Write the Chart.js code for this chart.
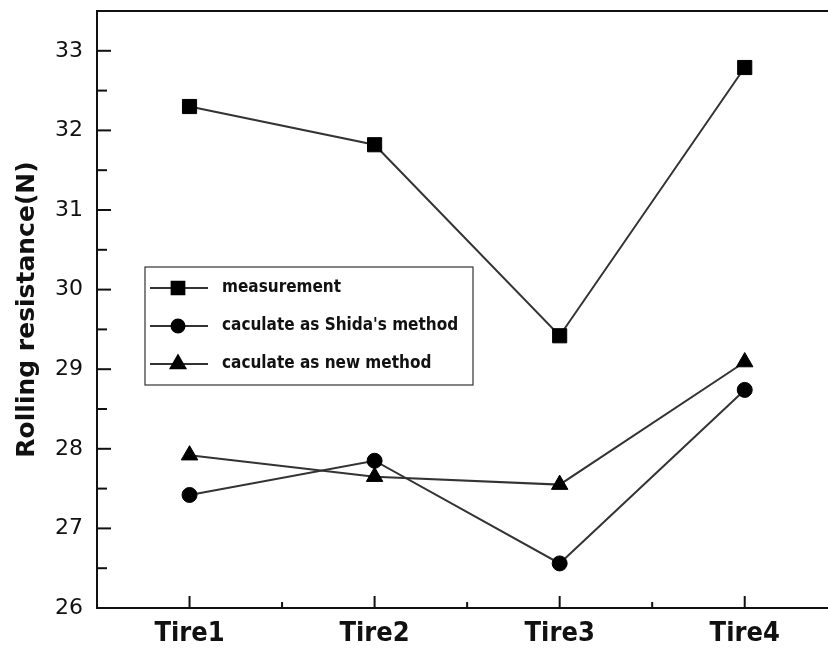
<!DOCTYPE html>
<html>
<head>
<meta charset="utf-8">
<script src="https://cdn.jsdelivr.net/npm/chart.js@4/dist/chart.umd.min.js"></script>
<style>
  html, body { margin: 0; padding: 0; background: #fff; overflow: hidden; }
  #wrap { width: 828px; height: 648px; }
</style>
</head>
<body>
<div id="wrap"><canvas id="c" width="828" height="648"></canvas></div>
<script>
// data
const tires = ["Tire1", "Tire2", "Tire3", "Tire4"];
const measurement = [32.30, 31.82, 29.42, 32.79];
const shidaMethod = [27.42, 27.85, 26.56, 28.74];
const newMethod = [27.92, 27.65, 27.55, 29.09];
const seriesNames = ["measurement", "caculate as Shida's method", "caculate as new method"];
const yTicks = [26, 27, 28, 29, 30, 31, 32, 33];

const toPoints = (arr) => arr.map((v, i) => ({ x: i + 1, y: v }));

// inward ticks + frame + legend box
const decor = {
  id: "decor",
  afterDraw(chart) {
    const ctx = chart.ctx;
    const a = chart.chartArea;
    const xs = chart.scales.x, ys = chart.scales.y;
    ctx.save();
    ctx.strokeStyle = "#111";
    ctx.lineWidth = 2;
    ctx.beginPath();
    ctx.moveTo(a.right, a.top);
    ctx.lineTo(a.left, a.top);
    ctx.lineTo(a.left, a.bottom);
    ctx.lineTo(a.right, a.bottom);
    ctx.stroke();

    // y ticks
    for (let v = 26.5; v < 33.5; v += 0.5) {
      const y = ys.getPixelForValue(v);
      const len = Number.isInteger(v) ? 14 : 10;
      ctx.beginPath();
      ctx.moveTo(a.left, y);
      ctx.lineTo(a.left + len, y);
      ctx.stroke();
    }
    // x ticks
    for (let v = 1; v <= 4.01; v += 0.5) {
      const x = xs.getPixelForValue(v);
      const len = Number.isInteger(v) ? 12 : 6;
      ctx.beginPath();
      ctx.moveTo(x, a.bottom);
      ctx.lineTo(x, a.bottom - len);
      ctx.stroke();
    }

    // legend
    const bx = 145, by = 267, bw = 328, bh = 118;
    ctx.lineWidth = 1.2;
    ctx.strokeStyle = "#333";
    ctx.strokeRect(bx, by, bw, bh);
    const rows = [288, 326, 364];
    const radii = [9, 6.5, 8.5];
    chart.data.datasets.forEach((ds, i) => {
      const y = rows[i];
      ctx.strokeStyle = "#333";
      ctx.lineWidth = 2;
      ctx.beginPath();
      ctx.moveTo(150, y);
      ctx.lineTo(208, y);
      ctx.stroke();
      ctx.fillStyle = "#000";
      ctx.strokeStyle = "#000";
      Chart.helpers.drawPoint(ctx, { pointStyle: ds.pointStyle, radius: radii[i], rotation: 0, borderWidth: 1 }, 178, y);
      ctx.fillStyle = "#111";
      ctx.font = "bold 17px 'DejaVu Sans Condensed', 'DejaVu Sans'";
      ctx.textBaseline = "middle";
      ctx.textAlign = "left";
      ctx.fillText(ds.label, 222, y);
    });
    ctx.restore();
  }
};

const lineColor = "#333";

new Chart(document.getElementById("c"), {
  type: "line",
  data: {
    datasets: [
      {
        label: seriesNames[0],
        data: toPoints(measurement),
        borderColor: lineColor,
        borderWidth: 2,
        pointStyle: "rect",
        pointRadius: 10,
        pointBackgroundColor: "#000",
        pointBorderColor: "#000",
        pointBorderWidth: 1,
        tension: 0,
      },
      {
        label: seriesNames[1],
        data: toPoints(shidaMethod),
        borderColor: lineColor,
        borderWidth: 2,
        pointStyle: "circle",
        pointRadius: 7.5,
        pointBackgroundColor: "#000",
        pointBorderColor: "#000",
        pointBorderWidth: 1,
        tension: 0,
      },
      {
        label: seriesNames[2],
        data: toPoints(newMethod),
        borderColor: lineColor,
        borderWidth: 2,
        pointStyle: "triangle",
        pointRadius: 9.5,
        pointBackgroundColor: "#000",
        pointBorderColor: "#000",
        pointBorderWidth: 1,
        tension: 0,
      },
    ],
  },
  options: {
    responsive: false,
    animation: false,
    layout: { autoPadding: false, padding: { left: 0, top: 11, right: 0, bottom: 0 } },
    plugins: {
      legend: { display: false },
      tooltip: { enabled: false },
    },
    scales: {
      x: {
        type: "linear",
        min: 0.5,
        max: 4.45,
        afterBuildTicks: (scale) => {
          scale.ticks = tires.map((t, i) => ({ value: i + 1 }));
        },
        ticks: {
          callback: (v) => tires[v - 1] || "",
          color: "#111",
          font: { family: "'DejaVu Sans Condensed', 'DejaVu Sans'", weight: "bold", size: 27 },
          padding: 10,
          maxRotation: 0,
          autoSkip: false,
        },
        grid: { display: false, drawTicks: false },
        border: { display: false },
        afterFit: (scale) => {
          scale.height = 40;
          scale.paddingLeft = 0;
          scale.paddingRight = 0;
        },
      },
      y: {
        min: 26,
        max: 33.5,
        afterBuildTicks: (scale) => {
          scale.ticks = yTicks.map((v) => ({ value: v }));
        },
        ticks: {
          color: "#111",
          font: { family: "'DejaVu Sans'", size: 22 },
          padding: 14,
        },
        grid: { display: false, drawTicks: false },
        border: { display: false },
        title: {
          display: true,
          text: "Rolling resistance(N)",
          color: "#111",
          font: { family: "'DejaVu Sans'", weight: "bold", size: 25 },
          padding: { top: 12, bottom: 0 },
        },
        afterFit: (scale) => {
          scale.width = 97;
          scale.paddingTop = 0;
          scale.paddingBottom = 0;
        },
      },
    },
  },
  plugins: [decor],
});
</script>
</body>
</html>
